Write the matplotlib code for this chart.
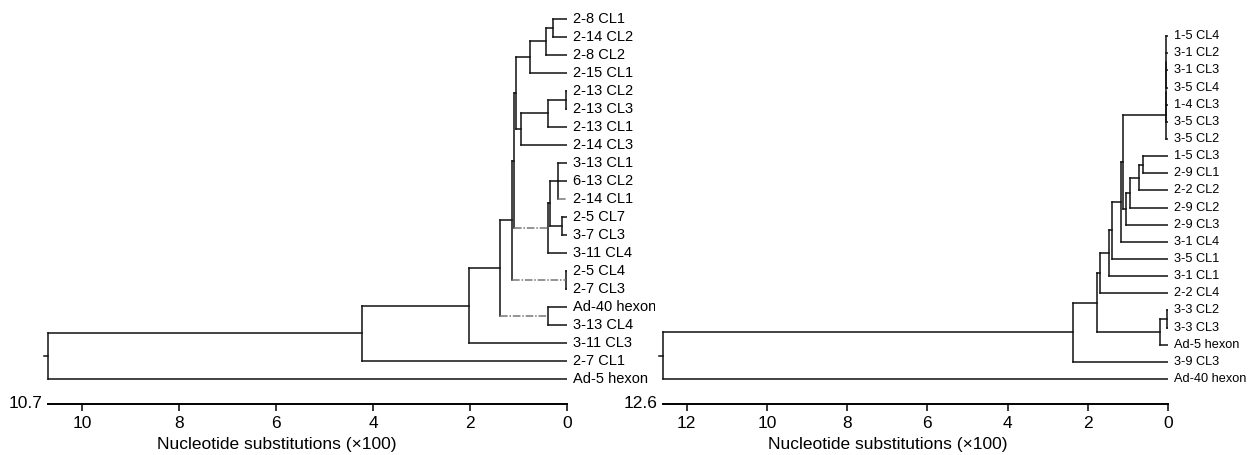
import matplotlib
matplotlib.use('Agg')
import matplotlib.pyplot as plt
import matplotlib.transforms as mtransforms

plt.rcParams['font.family'] = ['Liberation Sans', 'DejaVu Sans']

# left tree: leaves top to bottom, internal nodes (name, children, height x100 subst.)
left_leaves = ['2-8 CL1', '2-14 CL2', '2-8 CL2', '2-15 CL1', '2-13 CL2', '2-13 CL3',
               '2-13 CL1', '2-14 CL3', '3-13 CL1', '6-13 CL2', '2-14 CL1', '2-5 CL7',
               '3-7 CL3', '3-11 CL4', '2-5 CL4', '2-7 CL3', 'Ad-40 hexon', '3-13 CL4',
               '3-11 CL3', '2-7 CL1', 'Ad-5 hexon']
left_nodes = [
    ('A', ['2-8 CL1', '2-14 CL2'], 0.29),
    ('B', ['A', '2-8 CL2'], 0.44),
    ('C', ['B', '2-15 CL1'], 0.76),
    ('D', ['2-13 CL2', '2-13 CL3'], 0.02),
    ('E', ['D', '2-13 CL1'], 0.40),
    ('F', ['E', '2-14 CL3'], 0.95),
    ('G', ['C', 'F'], 1.05),
    ('H', ['3-13 CL1', '6-13 CL2', '2-14 CL1'], 0.19),
    ('I', ['2-5 CL7', '3-7 CL3'], 0.11),
    ('J', ['H', 'I'], 0.36),
    ('K', ['J', '3-11 CL4'], 0.39),
    ('Q', ['G', 'K'], 1.10),
    ('L', ['2-5 CL4', '2-7 CL3'], 0.02),
    ('P', ['Q', 'L'], 1.13),
    ('M', ['Ad-40 hexon', '3-13 CL4'], 0.39),
    ('N', ['P', 'M'], 1.38),
    ('O', ['N', '3-11 CL3'], 2.02),
    ('R', ['O', '2-7 CL1'], 4.23),
    ('root', ['R', 'Ad-5 hexon'], 10.7),
]
left_max = 10.7

# right tree
right_leaves = ['1-5 CL4', '3-1 CL2', '3-1 CL3', '3-5 CL4', '1-4 CL3', '3-5 CL3',
                '3-5 CL2', '1-5 CL3', '2-9 CL1', '2-2 CL2', '2-9 CL2', '2-9 CL3',
                '3-1 CL4', '3-5 CL1', '3-1 CL1', '2-2 CL4', '3-3 CL2', '3-3 CL3',
                'Ad-5 hexon', '3-9 CL3', 'Ad-40 hexon']
right_nodes = [
    ('T1', ['1-5 CL4', '3-1 CL2', '3-1 CL3', '3-5 CL4'], 0.05),
    ('T2', ['T1', '1-4 CL3', '3-5 CL3'], 0.05),
    ('T', ['T2', '3-5 CL2'], 0.05),
    ('a', ['1-5 CL3', '2-9 CL1'], 0.62),
    ('b', ['a', '2-2 CL2'], 0.72),
    ('c', ['b', '2-9 CL2'], 0.95),
    ('d', ['c', '2-9 CL3'], 1.05),
    ('n9', ['T', 'd'], 1.12),
    ('n8', ['n9', '3-1 CL4'], 1.17),
    ('n7', ['n8', '3-5 CL1'], 1.39),
    ('n6', ['n7', '3-1 CL1'], 1.46),
    ('n3', ['n6', '2-2 CL4'], 1.69),
    ('n5', ['3-3 CL2', '3-3 CL3'], 0.02),
    ('n4', ['n5', 'Ad-5 hexon'], 0.20),
    ('n2', ['n3', 'n4'], 1.76),
    ('n1', ['n2', '3-9 CL3'], 2.36),
    ('root', ['n1', 'Ad-40 hexon'], 12.6),
]
right_max = 12.6

ticks = [0, 2, 4, 6, 8, 10, 12]


def draw_tree(ax, leaves, nodes, dashed, fs):
    ypos = {name: i for i, name in enumerate(leaves)}
    xpos = {name: 0.0 for name in leaves}
    for name, kids, h in nodes:
        ys = [ypos[k] for k in kids]
        ypos[name] = (min(ys) + max(ys)) / 2
        xpos[name] = h
        ax.plot([h, h], [min(ys), max(ys)], color='#111111', lw=1.1,
                solid_capstyle='projecting')
        for k in kids:
            if k in dashed:
                ax.plot([h, xpos[k]], [ypos[k], ypos[k]], color='#777777', lw=1.1,
                        ls=(0, (5, 1.2, 1, 1.2)))
            else:
                ax.plot([h, xpos[k]], [ypos[k], ypos[k]], color='#111111', lw=1.1,
                        solid_capstyle='projecting')
    rname, _, rh = nodes[-1]
    ax.plot([rh, rh + 0.09], [ypos[rname]] * 2, color='#111111', lw=1.1)
    for name in leaves:
        ax.annotate(name, (0, ypos[name]), xytext=(4, 0), textcoords='offset points',
                    ha='left', va='center', fontsize=fs, annotation_clip=False)


def style_axis(ax, vmax):
    for s in ['top', 'left', 'right']:
        ax.spines[s].set_visible(False)
    ax.spines['bottom'].set_bounds(0, vmax)
    ax.spines['bottom'].set_linewidth(1.4)
    ax.set_yticks([])
    ax.set_xticks([t for t in ticks if t <= vmax])
    ax.tick_params(axis='x', direction='out', length=5, width=1.1, pad=4, labelsize=12.5)
    trans = mtransforms.blended_transform_factory(ax.transData, ax.transAxes)
    ax.annotate(f'{vmax}', (vmax, 0), xycoords=trans, xytext=(-4, 0),
                textcoords='offset points', ha='right', va='center', fontsize=12.5)


W, H = 1248, 455
fig = plt.figure(figsize=(W / 100, H / 100), dpi=100)

ax1 = fig.add_axes([40 / W, 51 / H, 527 / W, 403 / H])
draw_tree(ax1, left_leaves, left_nodes, {'K', 'L', 'M', '2-14 CL1'}, 10.5)
ax1.set_xlim(10.866, 0)
ax1.set_ylim(21.39, -1)
style_axis(ax1, left_max)

ax2 = fig.add_axes([655 / W, 51 / H, 513 / W, 385 / H])
draw_tree(ax2, right_leaves, right_nodes, set(), 9.2)
ax2.set_xlim(12.79, 0)
ax2.set_ylim(21.46, -1)
style_axis(ax2, right_max)

fig.text(277 / W, 1 - 444 / H, 'Nucleotide substitutions (\u00d7100)', ha='center',
         va='center', fontsize=12.5)
fig.text(888 / W, 1 - 444 / H, 'Nucleotide substitutions (\u00d7100)', ha='center',
         va='center', fontsize=12.5)

fig.savefig('out.png', dpi=100)
